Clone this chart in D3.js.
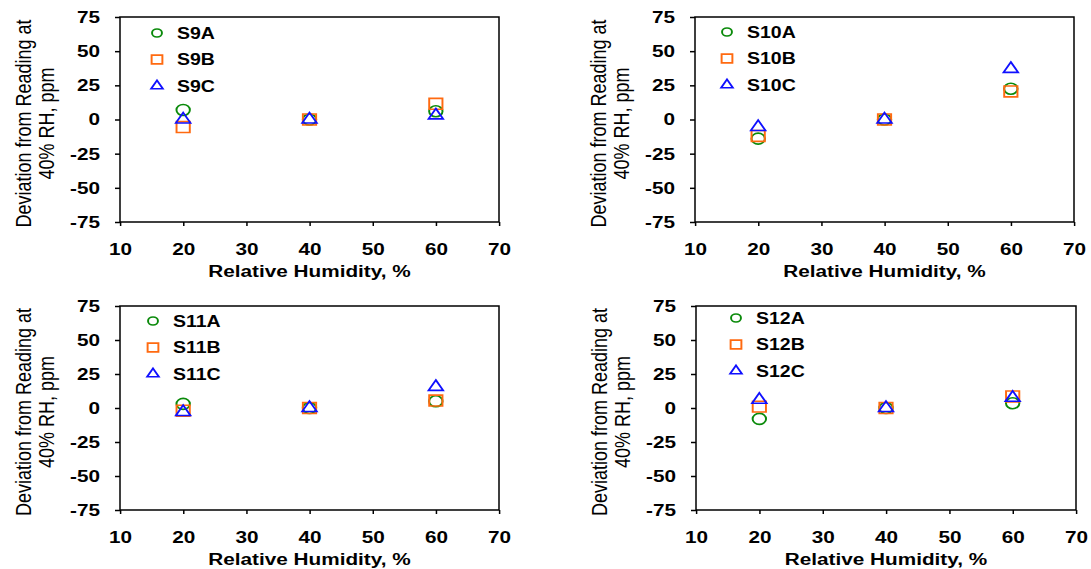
<!DOCTYPE html>
<html>
<head>
<title>Deviation from 40% RH</title>
<script src="https://cdn.jsdelivr.net/npm/d3@7"></script>
<style>
  html, body { margin: 0; background: #fff; }
  svg { display: block; font-family: "Liberation Sans", Arial, sans-serif; }
  .legend text { font-size: 16px; font-weight: bold; }
  svg .axis text { font-size: 17px !important; font-weight: bold; fill: #000; font-family: "Liberation Sans", Arial, sans-serif; }
</style>
</head>
<body>
<script>
// chart data
var rh = [20, 40, 60];
var xTicks = [10, 20, 30, 40, 50, 60, 70];
var yTicks = [-75, -50, -25, 0, 25, 50, 75];
var sensors = ["S9", "S10", "S11", "S12"];

var S9A = [7, 0, 6],    S9B = [-5.5, 0, 11.5], S9C = [0, 0, 3];
var S10A = [-14, 0, 22.5], S10B = [-12, 0, 20.5], S10C = [-5.5, 0, 37];
var S11A = [3, 0, 5],   S11B = [-2, 0, 5.5],  S11C = [-3, 0, 15.5];
var S12A = [-8, 0, 3.5], S12B = [1, 0, 8.5],   S12C = [6, 0, 7.5];

var values = {
  S9:  [S9A, S9B, S9C],
  S10: [S10A, S10B, S10C],
  S11: [S11A, S11B, S11C],
  S12: [S12A, S12B, S12C]
};
var suffix = ["A", "B", "C"];

// the original picture is stretched sideways, so draw in narrower units
var S = 1.22;
var W = 1091, H = 569;

var boxes = [
  {l: 120, r: 499, t: 17, b: 222, lx: 37, ly: 0},
  {l: 695, r: 1074, t: 17, b: 222, lx: 32, ly: -1},
  {l: 120, r: 499, t: 306, b: 510, lx: 33, ly: -1},
  {l: 696, r: 1076, t: 306, b: 510, lx: 40, ly: -4}
];

var colors = ["#0a8a0a", "#ff6a10", "#1010ff"];
var shapes = [d3.symbolCircle, d3.symbolSquare, d3.symbolTriangle];
var sizes = [95, 118, 62];
var legendSizes = [52, 78, 40];

var svg = d3.select("body").append("svg")
    .attr("width", W)
    .attr("height", H)
    .attr("viewBox", "0 0 " + (W / S) + " " + H)
    .attr("preserveAspectRatio", "none");

function styleAxis(a) {
  a.attr("class", "axis")
   .attr("font-size", 17)
   .attr("font-weight", "bold")
   .attr("font-family", "Liberation Sans, Arial, sans-serif");
  a.select(".domain").remove();
  a.selectAll(".tick text").attr("fill", "#000");
  a.selectAll(".tick line")
      .attr("stroke", "#000")
      .attr("vector-effect", "non-scaling-stroke")
      .attr("stroke-width", 1.5);
}

sensors.forEach(function(name, p) {
  var bx = boxes[p];
  var x = d3.scaleLinear().domain([10, 70]).range([bx.l / S, bx.r / S]);
  var y = d3.scaleLinear().domain([-75, 75]).range([bx.b, bx.t]);

  var g = svg.append("g");

  g.append("g")
      .attr("transform", "translate(0," + bx.b + ")")
      .call(d3.axisBottom(x).tickValues(xTicks).tickSize(4).tickPadding(17)
        .tickFormat(function(d) { return String(d); }))
      .call(styleAxis);

  g.append("g")
      .attr("transform", "translate(" + (bx.l / S) + ",0)")
      .call(d3.axisLeft(y).tickValues(yTicks).tickSize(5 / S).tickPadding(15 / S)
        .tickFormat(function(d) { return String(d); }))
      .call(styleAxis);

  g.append("rect")
      .attr("x", x(10)).attr("y", y(75))
      .attr("width", x(70) - x(10)).attr("height", y(-75) - y(75))
      .attr("fill", "none")
      .attr("stroke", "#000")
      .attr("stroke-width", 1.5)
      .attr("vector-effect", "non-scaling-stroke");

  // axis titles
  g.append("text")
      .attr("x", (x(10) + x(70)) / 2)
      .attr("y", bx.b + 55)
      .attr("text-anchor", "middle")
      .style("font-size", "17px")
      .style("font-weight", "bold")
      .text("Relative Humidity, %");

  var cy = (bx.t + bx.b) / 2 + 4;
  var yt = g.append("text")
      .attr("transform", "translate(" + ((bx.l - 89) / S) + "," + cy + ") rotate(-90)")
      .attr("text-anchor", "middle")
      .style("font-size", "18px");
  yt.append("tspan").attr("x", 0).attr("y", 0).text("Deviation from Reading at");
  yt.append("tspan").attr("x", 0).attr("y", 23 / S).text("40% RH, ppm");

  // series points
  values[name].forEach(function(vals, k) {
    g.selectAll(null)
      .data(vals.map(function(v, i) { return {rh: rh[i], v: v}; }))
      .enter().append("path")
        .attr("d", d3.symbol().type(shapes[k]).size(sizes[k]))
        .attr("transform", function(d) { return "translate(" + x(d.rh) + "," + y(d.v) + ")"; })
        .attr("fill", "none")
        .attr("stroke", colors[k])
        .attr("stroke-width", 1.6);
  });

  // legend
  var lg = g.append("g").attr("class", "legend");
  suffix.forEach(function(s, k) {
    var ly = bx.t + 16 + bx.ly + k * 26.5;
    lg.append("path")
      .attr("d", d3.symbol().type(shapes[k]).size(legendSizes[k]))
      .attr("transform", "translate(" + ((bx.l + bx.lx) / S) + "," + ly + ")")
      .attr("fill", "none")
      .attr("stroke", colors[k])
      .attr("stroke-width", 1.6);
    lg.append("text")
      .attr("x", (bx.l + bx.lx + 20) / S)
      .attr("y", ly)
      .attr("dy", "0.36em")
      .text(name + s);
  });
});
</script>
</body>
</html>
